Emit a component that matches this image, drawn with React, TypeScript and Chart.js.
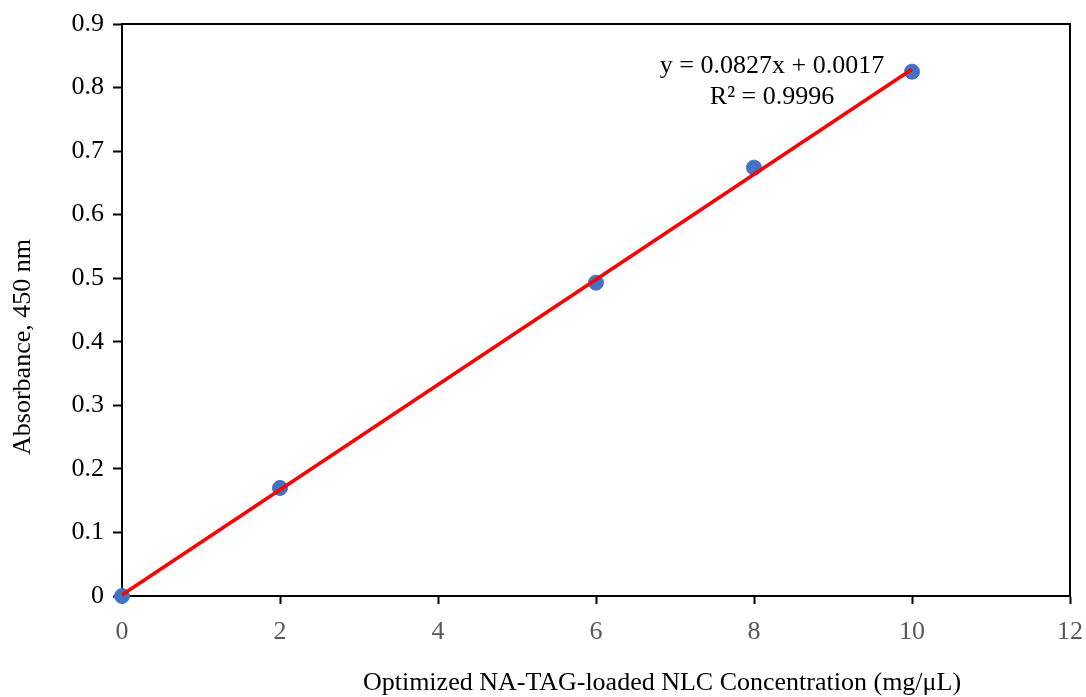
import React, { useEffect, useRef } from "react";
import { Chart, registerables } from "chart.js";

Chart.register(...registerables);

const concentrations = [0, 2, 6, 8, 10];
const absorbances = [0, 0.17, 0.493, 0.674, 0.825];
const trendX = [0, 10];
const trendY = [0.0017, 0.8287];
const equationText = "y = 0.0827x + 0.0017";
const r2Text = "R\u00B2 = 0.9996";
const xTitle = "Optimized NA-TAG-loaded NLC Concentration (mg/\u03BCL)";
const yTitle = "Absorbance, 450 nm";

const FONT = '"Liberation Serif", "Times New Roman", serif';

export default function App() {
  const ref = useRef<HTMLCanvasElement>(null);
  useEffect(() => {
    if (!ref.current) return;
    const overlay = {
      id: "overlay",
      beforeDatasetsDraw(chart: any) {
        const { ctx, chartArea } = chart;
        ctx.save();
        ctx.strokeStyle = "#000";
        ctx.lineWidth = 2;
        ctx.beginPath();
        ctx.moveTo(chartArea.left, chartArea.top);
        ctx.lineTo(chartArea.right, chartArea.top);
        ctx.lineTo(chartArea.right, chartArea.bottom);
        ctx.stroke();
        ctx.restore();
      },
      afterDraw(chart: any) {
        const { ctx } = chart;
        ctx.save();
        ctx.fillStyle = "#000";
        ctx.font = `26px ${FONT}`;
        ctx.textAlign = "center";
        ctx.textBaseline = "middle";
        ctx.fillText(equationText, 772, 66);
        ctx.fillText(r2Text, 772, 97);
        ctx.fillText(xTitle, 662, 683);
        ctx.translate(23, 347);
        ctx.rotate(-Math.PI / 2);
        ctx.fillText(yTitle, 0, 0);
        ctx.restore();
      },
    };
    const chart = new Chart(ref.current, {
      type: "scatter",
      data: {
        datasets: [
          {
            type: "line",
            label: "Trend",
            data: trendX.map((x, i) => ({ x, y: trendY[i] })),
            borderColor: "#FF0000",
            borderWidth: 3.5,
            pointRadius: 0,
            fill: false,
          } as any,
          {
            label: "Absorbance",
            data: concentrations.map((x, i) => ({ x, y: absorbances[i] })),
            backgroundColor: "#4472C4",
            borderColor: "#4472C4",
            pointRadius: 7.5,
            clip: false,
          } as any,
        ],
      },
      options: {
        animation: false,
        responsive: false,
        layout: { padding: { left: 0, top: 24, right: 16, bottom: 0 } },
        plugins: { legend: { display: false }, tooltip: { enabled: false } },
        scales: {
          x: {
            type: "linear",
            min: 0,
            max: 12,
            ticks: { stepSize: 2, color: "#595959", font: { family: FONT, size: 26 }, padding: 13 },
            grid: { drawOnChartArea: false, tickColor: "#000", tickLength: 8, tickWidth: 2 },
            border: { color: "#000", width: 2 },
            afterFit(scale: any) {
              scale.height = 101;
              scale.paddingLeft = 0;
              scale.paddingRight = 0;
            },
          },
          y: {
            type: "linear",
            min: 0,
            max: 0.9,
            ticks: { stepSize: 0.1, color: "#000", font: { family: FONT, size: 26 }, padding: 9 },
            grid: { drawOnChartArea: false, tickColor: "#000", tickLength: 9, tickWidth: 2 },
            border: { color: "#000", width: 2 },
            afterFit(scale: any) {
              scale.width = 122;
              scale.paddingTop = 0;
              scale.paddingBottom = 0;
            },
          },
        },
      },
      plugins: [overlay],
    });
    return () => chart.destroy();
  }, []);
  return (
    <div style={{ position: "absolute", left: 0, top: 0, width: 1086, height: 697, background: "#fff" }}>
      <canvas ref={ref} width={1086} height={697} />
    </div>
  );
}
